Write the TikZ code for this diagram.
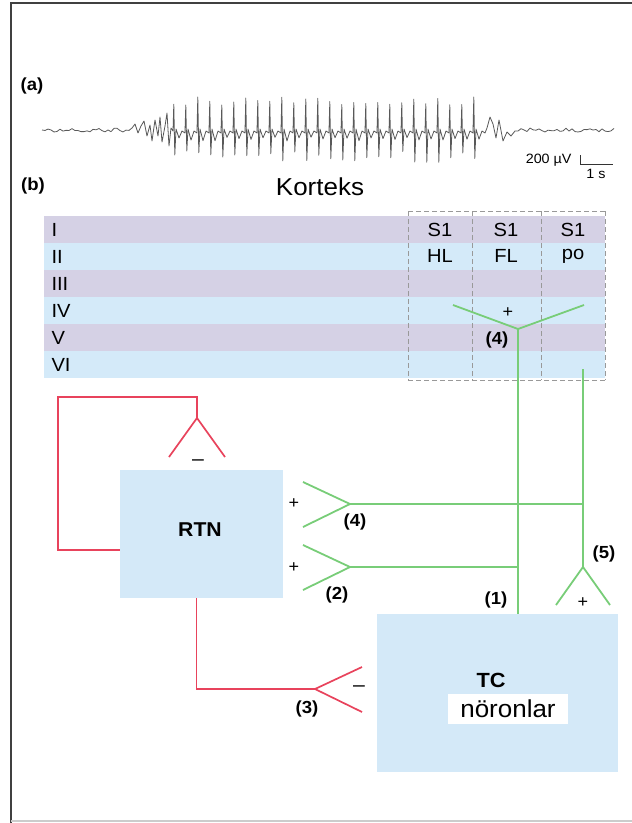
\documentclass[tikz,border=0pt]{standalone}
\usepackage{fontspec}
\setmainfont[FakeStretch=1.06]{Liberation Sans}
\definecolor{layerpurple}{HTML}{D5D1E5}
\definecolor{layerblue}{HTML}{D4EAF9}
\definecolor{boxblue}{HTML}{D4E9F8}
\definecolor{synred}{HTML}{E8435C}
\definecolor{syngreen}{HTML}{78CD78}
\begin{document}
\begin{tikzpicture}[x=1pt,y=-1pt,
  gline/.style={syngreen,line width=1.8pt},
  rline/.style={synred,line width=1.7pt},
  eeg/.style={black!65,line width=0.8pt,line join=round},
  nucleus/.style={fill=boxblue,draw=none,inner sep=0pt},
  colbox/.style={gray!80,line width=0.9pt,dash pattern=on 5pt off 3pt},
  rowlbl/.style={anchor=west,font=\fontsize{19}{21}\selectfont},
  collbl/.style={font=\fontsize{19}{21}\selectfont},
  numlbl/.style={font=\fontsize{17.5}{19}\selectfont\bfseries},
  signlbl/.style={font=\fontsize{17}{19}\selectfont},
  biglbl/.style={font=\fontsize{24.5}{28}\selectfont}]
  \useasboundingbox (0,0) rectangle (632,823);
  % frame
  \draw[black!75,line width=2pt] (11,823) -- (11,3) -- (632,3);
  \draw[black!20,line width=1.5pt] (11,821) -- (632,821);

  % (a) EEG trace
  \node[numlbl] (lblA) at (32,86) {(a)};
  \pgfmathsetseed{7}
  \draw[eeg] (42,130)
    \foreach \x in {45,48,...,129} { -- (\x,{130+2*rand}) }
    -- (132,128) -- (135,124) -- (138,133) -- (141,126) -- (144,121) -- (147,136)
    -- (150,125) -- (152,141) -- (155,120) -- (158,136) -- (160,117) -- (162,142)
    -- (165,126) -- (167,113) -- (169,146) -- (171,128)
    \foreach \k in {0,...,25} {
      -- ({173+12*\k},131) -- ({173.8+12*\k},{101+4*rand})
      -- ({174.8+12*\k},{157+6*rand}) -- ({176+12*\k},129)
      -- ({179+12*\k},{139+2*rand}) -- ({182+12*\k},131) -- ({185+12*\k},133) }
    -- (487,128) -- (490,117) -- (493,124) -- (496,138) -- (499,120) -- (503,141)
    -- (507,132) -- (511,136) -- (515,131)
    \foreach \x in {518,521,...,614} { -- (\x,{130+2*rand}) };
  % scale bar
  \coordinate (barTop) at (580,155);
  \coordinate (barEnd) at (613,164);
  \draw[black!80,line width=1pt] (barTop) |- (barEnd);
  \node[font=\fontsize{13.5}{15}\selectfont,anchor=east] (uvlbl) at (575,160) {200 µV};
  \node[font=\fontsize{13.5}{15}\selectfont] (slbl) at (596,174) {1 s};

  % (b) cortex layers
  \node[numlbl] (lblB) at (33,186) {(b)};
  \node[biglbl] (korteks) at (320,187) {Korteks};
  \foreach \name/\col [count=\i from 0] in
      {I/layerpurple,II/layerblue,III/layerpurple,IV/layerblue,V/layerpurple,VI/layerblue} {
    \fill[\col] (44,{216+27*\i}) rectangle (605,{243+27*\i});
    \node[rowlbl] (row\i) at (48,{229.5+27*\i}) {\name};
  }
  % S1 columns
  \draw[colbox] (408,211) -- (605,211);
  \draw[colbox] (408,380) -- (605,380);
  \foreach \cx in {408,472,541,605}
    \draw[colbox] (\cx,211) -- (\cx,380);
  \node[collbl] (hlTop) at (440,230) {S1};
  \node[collbl] (flTop) at (506,230) {S1};
  \node[collbl] (poTop) at (573,230) {S1};
  \node[collbl] (hl) at (440,256) {HL};
  \node[collbl] (fl) at (506,256) {FL};
  \node[collbl] (po) at (573,256) {po};

  % nuclei
  \node[nucleus,minimum width=163,minimum height=128] (rtn) at (201.5,534) {};
  \node[font=\fontsize{20}{22}\selectfont\bfseries] (rtnlbl) at (200,530) {RTN};
  \node[nucleus,minimum width=241,minimum height=158] (tc) at (497.5,693) {};
  \node[font=\fontsize{20.5}{22}\selectfont\bfseries] (tclbl) at (491,680) {TC};
  \node[fill=white,minimum width=120,minimum height=30,inner sep=0pt,biglbl] (tcneur) at (508,709) {nöronlar};

  % cortical synapse (4) and thalamocortical axons
  \coordinate (ctxY) at (518,329);
  \coordinate (poAxon) at (583,369);
  \coordinate (y4) at (350,504);
  \coordinate (y2) at (350,567);
  \coordinate (y5) at (583,567);
  \draw[gline] (453,305) -- (ctxY) -- (584,305);
  \draw[gline] (ctxY) -- (ctxY |- tc.north);
  \draw[gline] (poAxon) -- (y5);
  \draw[gline] ([shift={(-27,38)}]y5) -- (y5) -- ++(27,38);
  \draw[gline] (y4) -- (y4 -| poAxon);
  \draw[gline] ([shift={(-47,-22)}]y4) -- (y4) -- ++(-47,23);
  \draw[gline] (y2) -- (y2 -| ctxY);
  \draw[gline] ([shift={(-47,-22)}]y2) -- (y2) -- ++(-47,23);
  \node[signlbl] (plusCtx) at (508,313) {+};
  \node[numlbl] (n4ctx) at (497,340) {(4)};
  \node[signlbl] (plus4) at (294,504) {+};
  \node[numlbl] (n4) at (355,522) {(4)};
  \node[signlbl] (plus2) at (294,568) {+};
  \node[numlbl] (n2) at (337,595) {(2)};
  \node[numlbl] (n1) at (496,600) {(1)};
  \node[numlbl] (n5) at (604,554) {(5)};
  \node[signlbl] (plus5) at (583,603) {+};

  % RTN inhibition
  \coordinate (yR) at (197,418);
  \coordinate (loopCorner) at (58,397);
  \coordinate (y3) at (315,689);
  \draw[rline] ([yshift=-16pt]rtn.west) -| (loopCorner) -| (yR);
  \draw[rline] ([shift={(-28,39)}]yR) -- (yR) -- ++(28,39);
  \draw[rline] ([xshift=-5pt]rtn.south) |- (y3);
  \draw[rline] ([shift={(47,-22)}]y3) -- (y3) -- ++(47,23);
  \node[font=\fontsize{20}{22}\selectfont] (minusR) at (198,463) {–};
  \node[font=\fontsize{20}{22}\selectfont] (minus3) at (359,689) {–};
  \node[numlbl] (n3) at (307,709) {(3)};
\end{tikzpicture}
\end{document}
